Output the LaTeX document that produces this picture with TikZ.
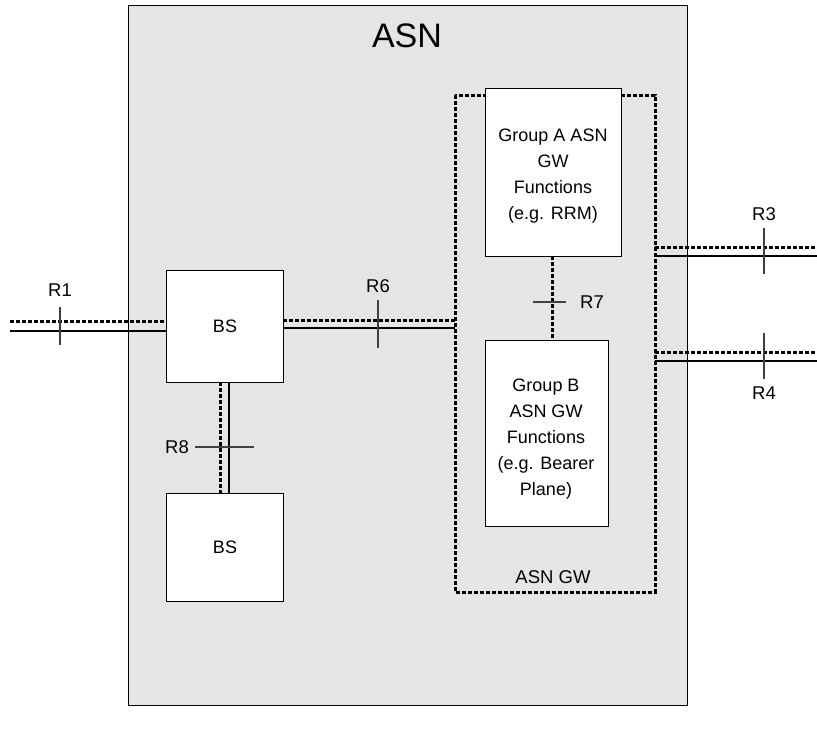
\documentclass[tikz,border=0pt]{standalone}
\usepackage{fontspec}
\setmainfont{Liberation Sans}
\begin{document}
\begin{tikzpicture}[x=1pt,y=-1pt,
  box/.style={draw=black,fill=white,line width=1pt,align=center,font=\fontsize{18}{26}\selectfont},
  txt/.style={align=center,font=\fontsize{18}{26}\selectfont,inner sep=0pt},
  dotl/.style={line width=3pt,dash pattern=on 4pt off 2pt},
  solidl/.style={line width=2.8pt},
  tick/.style={draw=black!75,line width=1.1pt},
  lbl/.style={font=\fontsize{18.5}{22}\selectfont}]
\useasboundingbox (0,0) rectangle (817,731);
% ASN
\draw[fill=black!10,line width=1pt] (128,5) rectangle (687,705);
\node[font=\fontsize{34}{40}\selectfont] (asn) at (407,36) {ASN};
% ASN GW
\draw[dotl] (455,95) rectangle (655,592);
\node[lbl] (gwl) at (553,577) {ASN GW};
% boxes
\node[box,minimum width=136pt,minimum height=168pt,anchor=north west] (ga) at (485,88) {};
\node[txt] (gat) at (553,176) {Group A ASN\\GW\\Functions\\(e.g. RRM)};
\node[box,minimum width=123pt,minimum height=186pt,anchor=north west] (gb) at (485,340) {};
\node[txt] (gbt) at (546,439) {Group B\\ASN GW\\Functions\\(e.g. Bearer\\Plane)};
\node[box,minimum width=117pt,minimum height=112pt,anchor=north west] (bs1) at (166,270) {BS};
\node[box,minimum width=117pt,minimum height=108pt,anchor=north west] (bs2) at (166,493) {BS};
% R1
\coordinate (r1a) at (10,321);
\coordinate (r1b) at (10,331);
\draw[dotl] (r1a) -- (r1a -| bs1.west);
\draw[solidl] (r1b) -- (r1b -| bs1.west);
\coordinate (t1a) at (60,307); \coordinate (t1b) at (60,345);
\draw[tick] (t1a) -- (t1b);
\node[lbl] (r1l) at (60,290) {R1};
% R6
\coordinate (r6a) at (283,320);
\coordinate (r6b) at (283,328);
\draw[dotl] (r6a) -- (455,320);
\draw[solidl] (r6b) -- (455,328);
\coordinate (t6a) at (378,300); \coordinate (t6b) at (378,348);
\draw[tick] (t6a) -- (t6b);
\node[lbl] (r6l) at (378,286) {R6};
% R8
\draw[dotl] (220,382) -- (220,493);
\draw[solidl] (229,382) -- (229,493);
\coordinate (t8a) at (195,447); \coordinate (t8b) at (254,447);
\draw[tick] (t8a) -- (t8b);
\node[lbl] (r8l) at (177,447) {R8};
% R7
\draw[dotl] (552,256) -- (552,340);
\coordinate (t7a) at (533,302); \coordinate (t7b) at (566,302);
\draw[tick] (t7a) -- (t7b);
\node[lbl] (r7l) at (592,302) {R7};
% R3
\draw[dotl] (655,247) -- (817,247);
\draw[solidl] (655,256) -- (817,256);
\coordinate (t3a) at (764,228); \coordinate (t3b) at (764,274);
\draw[tick] (t3a) -- (t3b);
\node[lbl] (r3l) at (764,214) {R3};
% R4
\draw[dotl] (655,352) -- (817,352);
\draw[solidl] (655,361) -- (817,361);
\coordinate (t4a) at (764,333); \coordinate (t4b) at (764,379);
\draw[tick] (t4a) -- (t4b);
\node[lbl] (r4l) at (764,393) {R4};
\end{tikzpicture}
\end{document}
